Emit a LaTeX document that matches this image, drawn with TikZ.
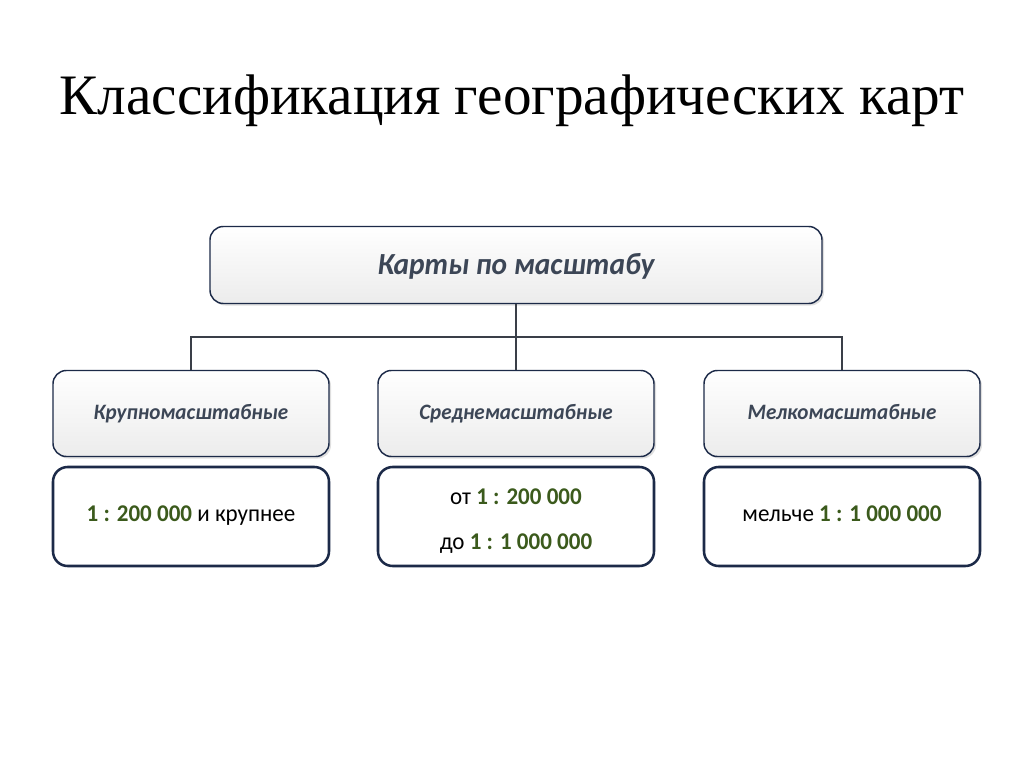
\documentclass[tikz,border=0pt]{standalone}
\usepackage{fontspec}
\setmainfont{Carlito}
\newfontfamily\boxfont[FakeStretch=0.96]{Carlito}
\newfontfamily\titlefont{Liberation Serif}
\usetikzlibrary{shadows}
\definecolor{navy}{HTML}{1C2A48}
\definecolor{labeltext}{HTML}{3C4656}
\definecolor{scalegreen}{HTML}{3B5A1C}
\definecolor{linegray}{HTML}{3A3F48}
\newcommand{\scl}[1]{\textbf{\color{scalegreen}#1}}
\newlength{\unitpx}\setlength{\unitpx}{0.75pt}
\tikzset{
  headbox/.style={draw=navy, line width=1.1pt, rounded corners=10pt, inner sep=0pt,
    top color=white, bottom color=gray!15,
    drop shadow={shadow xshift=1.5pt, shadow yshift=-1.5pt, opacity=0.25},
    text=labeltext, text height=12pt, text depth=3pt},
  labelbox/.style={headbox, minimum width=276\unitpx, minimum height=86\unitpx,
    font=\boxfont\bfseries\itshape\fontsize{16.5}{20}\selectfont},
  valbox/.style={draw=navy, line width=1.9pt, rounded corners=11pt, inner sep=0pt,
    fill=white, minimum width=276\unitpx, minimum height=99\unitpx,
    font=\boxfont\fontsize{18}{33.75}\selectfont, align=center,
    text height=13pt, text depth=6.25pt},
  conn/.style={draw=linegray, line width=0.8pt}
}
\begin{document}
\begin{tikzpicture}[x=0.75pt,y=-0.75pt]
\useasboundingbox (0,0) rectangle (1024,767);
\fill[white] (0,0) rectangle (1024,767);
\node[anchor=base, inner sep=0pt, font=\titlefont\fontsize{42.9}{50}\selectfont] (title) at (512,114) {Классификация географических карт};
\node[headbox, minimum width=612\unitpx, minimum height=77\unitpx, text height=17pt, text depth=3pt, font=\boxfont\bfseries\itshape\fontsize{23}{27}\selectfont] (top) at (516,265) {Карты по масштабу};
\node[labelbox] (l1) at (191,413.5) {Крупномасштабные};
\node[labelbox] (m1) at (516,413.5) {Среднемасштабные};
\node[labelbox] (r1) at (842,413.5) {Мелкомасштабные};
\node[valbox] (l2) at (191,516.5) {\scl{1 : 200 000} и крупнее};
\node[valbox, text height=52pt, text depth=2.5pt] (m2) at (516,516.5) {от \scl{1 : 200 000}\\до \scl{1 : 1 000 000}};
\node[valbox] (r2) at (842,516.5) {мельче \scl{1 : 1 000 000}};
\coordinate (jl) at (191,337);
\coordinate (jr) at (842,337);
\draw[conn] (top.south) -- (m1.north);
\draw[conn] (l1.north) -- (jl) -- (jr) -- (r1.north);
\end{tikzpicture}
\end{document}
